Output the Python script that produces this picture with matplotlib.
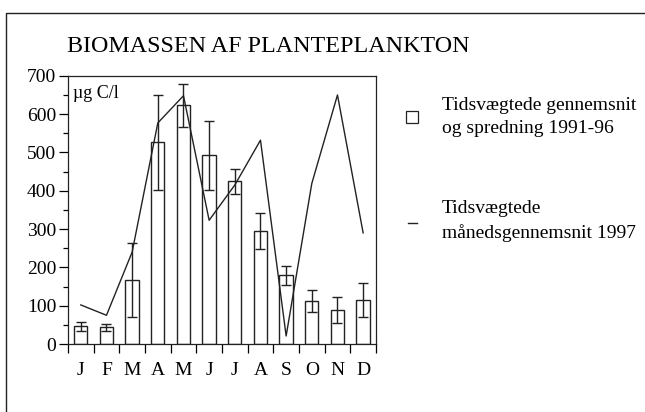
import matplotlib.pyplot as plt
import numpy as np
from matplotlib.lines import Line2D
from matplotlib.ticker import MultipleLocator

plt.rcParams['font.family'] = ['Liberation Serif', 'DejaVu Serif']

months = ['J', 'F', 'M', 'A', 'M', 'J', 'J', 'A', 'S', 'O', 'N', 'D']
# gennemsnit 1991-96 og spredning (nedre / oevre)
mean_9196 = [47, 44, 168, 526, 623, 494, 425, 295, 179, 113, 89, 115]
err_low = [34, 35, 70, 403, 567, 403, 391, 247, 155, 84, 54, 70]
err_high = [58, 52, 264, 650, 679, 581, 458, 343, 203, 141, 122, 158]
# maanedsgennemsnit 1997
mean_1997 = [102, 75, 240, 577, 648, 323, 415, 532, 21, 419, 650, 290]

x = np.arange(len(months))
mean_9196 = np.array(mean_9196)
yerr = [mean_9196 - np.array(err_low), np.array(err_high) - mean_9196]

fig = plt.figure(figsize=(6.45, 4.12), dpi=100)
ax = fig.add_axes([0.1054, 0.165, 0.4775, 0.651])

ax.bar(x, mean_9196, width=0.52, color='white', edgecolor='#222222', linewidth=1.0)
ax.errorbar(x, mean_9196, yerr=yerr, fmt='none', ecolor='#222222', elinewidth=1.0,
            capsize=3.8, capthick=1.0)
ax.plot(x, mean_1997, color='#222222', linewidth=1.0)

ax.set_xlim(-0.5, 11.5)
ax.set_ylim(0, 700)
ax.set_xticks(x)
ax.set_xticklabels(months)
ax.set_xticks(np.arange(-0.5, 12, 1), minor=True)
ax.tick_params(axis='x', which='major', length=0, pad=13, labelsize=14)
ax.tick_params(axis='x', which='minor', length=6.5, width=0.9, direction='out')
ax.yaxis.set_major_locator(MultipleLocator(100))
ax.yaxis.set_minor_locator(MultipleLocator(50))
ax.tick_params(axis='y', which='major', length=6.5, width=0.9, labelsize=14, pad=2)
ax.tick_params(axis='y', which='minor', length=3.6, width=0.9)
for s in ax.spines.values():
    s.set_linewidth(0.9)
    s.set_color('#222222')

ax.text(0.015, 0.965, 'µg C/l', transform=ax.transAxes, fontsize=13, va='top', ha='left')

fig.text(0.104, 0.887, 'BIOMASSEN AF PLANTEPLANKTON', fontsize=17.3, ha='left', va='center')

# forklaring
fig.add_artist(Line2D([0.639], [0.715], marker='s', markersize=8, markerfacecolor='white',
                      markeredgecolor='#222222', markeredgewidth=0.9, linestyle='none',
                      transform=fig.transFigure))
fig.text(0.685, 0.745, 'Tidsvægtede gennemsnit', fontsize=14, ha='left', va='center')
fig.text(0.685, 0.688, 'og spredning 1991-96', fontsize=14, ha='left', va='center')
fig.add_artist(Line2D([0.632, 0.646], [0.459, 0.459], color='#222222', linewidth=1.0,
                      transform=fig.transFigure))
fig.text(0.685, 0.493, 'Tidsvægtede', fontsize=14, ha='left', va='center')
fig.text(0.685, 0.435, 'månedsgennemsnit 1997', fontsize=14, ha='left', va='center')

# ydre ramme
fig.add_artist(Line2D([0.0093, 0.0093, 1.0], [0.0, 0.968, 0.968], color='#222222',
                      linewidth=1.0, transform=fig.transFigure))

fig.savefig('out.png', dpi=100)
